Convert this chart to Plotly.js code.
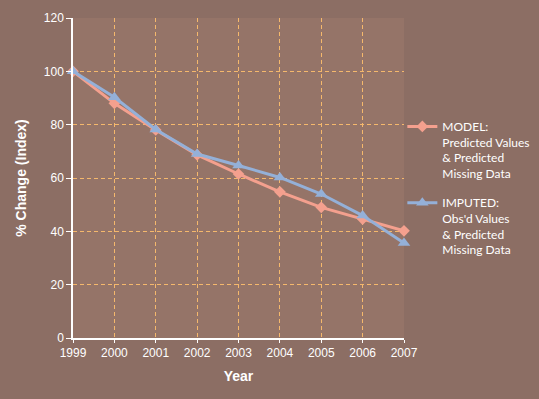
<!DOCTYPE html>
<html><head><meta charset="utf-8">
<script src="https://cdn.plot.ly/plotly-3.0.1.min.js"></script>
<style>html,body{margin:0;padding:0;background:#8c6e64;}</style>
</head><body>
<div id="chart" style="width:539px;height:399px;"></div>
<script>
var years = [1999, 2000, 2001, 2002, 2003, 2004, 2005, 2006, 2007];
var modelValues = [100, 88, 78, 68.7, 61.5, 54.8, 49, 44.6, 40.2];
var imputedValues = [100, 90.3, 78.2, 69, 64.7, 60.2, 54, 45.9, 35.6];
var modelName = 'MODEL:<br>Predicted Values<br>& Predicted<br>Missing Data';
var imputedName = 'IMPUTED:<br>Obs\'d Values<br>& Predicted<br>Missing Data';

var traces = [
  {x: years, y: modelValues, name: modelName, legendgroup: 'm', mode: 'lines+markers', cliponaxis: false,
   line: {color: '#f4a08e', width: 3}, marker: {symbol: 'diamond', size: 9, color: '#f4a08e'}},
  {x: years, y: imputedValues, name: imputedName, legendgroup: 'i', mode: 'lines+markers', cliponaxis: false,
   line: {color: '#94b0d8', width: 3}, marker: {symbol: 'triangle-up', size: 11, color: '#94b0d8'}}
];
var layout = {
  width: 539, height: 399,
  paper_bgcolor: '#8c6e64', plot_bgcolor: '#957468',
  margin: {l: 73, r: 135, t: 18, b: 61, autoexpand: false},
  font: {family: 'Liberation Sans', color: '#ffffff', size: 12},
  showlegend: true,
  legend: {x: 0.995, y: 0.706, xanchor: 'left', yanchor: 'top', bgcolor: 'rgba(0,0,0,0)',
    traceorder: 'grouped', valign: 'top',
    font: {family: 'Lato', size: 12, color: '#ffffff'}, tracegroupgap: 11, itemwidth: 30},
  xaxis: {range: [1999, 2007], tickvals: years, ticktext: years.map(String),
    showgrid: true, gridcolor: '#f5b86c', griddash: '4px,3px', gridwidth: 1,
    showline: true, linecolor: '#ffffff', linewidth: 1.5, ticks: 'outside', ticklen: 3, tickcolor: '#ffffff',
    zeroline: false, tickfont: {size: 12},
    title: {text: '<b>Year</b>', font: {size: 14, color: '#ffffff'}, standoff: 12}},
  yaxis: {range: [0, 120], tickvals: [0, 20, 40, 60, 80, 100, 120],
    showgrid: true, gridcolor: '#f5b86c', griddash: '4px,3px', gridwidth: 1,
    showline: true, linecolor: '#ffffff', linewidth: 1.5, ticks: 'outside', ticklen: 5, tickcolor: '#ffffff',
    zeroline: false, tickfont: {size: 12},
    title: {text: '<b>% Change (Index)</b>', font: {size: 14, color: '#ffffff'}, standoff: 14}}
};
Plotly.newPlot('chart', traces, layout, {displayModeBar: false});
</script>
</body></html>
